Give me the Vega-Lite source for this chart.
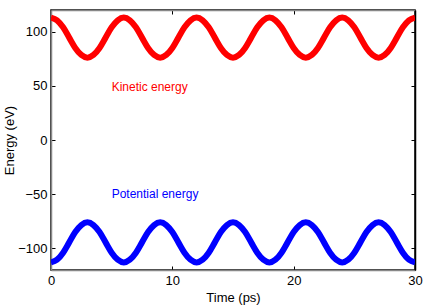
{
  "$schema": "https://vega.github.io/schema/vega-lite/v6.json",
  "width": 364,
  "height": 260,
  "autosize": "none",
  "padding": {"left": 51, "top": 10, "right": 21, "bottom": 35},
  "config": {
    "font": "Liberation Sans",
    "view": {"stroke": "#000000", "strokeWidth": 1.5},
    "axis": {
      "grid": false,
      "domainColor": "#888888",
      "domainWidth": 1.5,
      "tickColor": "#000000",
      "tickSize": -4,
      "labelColor": "#000000",
      "labelFontSize": 13,
      "labelFont": "Liberation Sans",
      "titleFont": "Liberation Sans",
      "titleFontSize": 13,
      "titleFontWeight": "normal",
      "titleColor": "#000000"
    }
  },
  "datasets": {
    "energy": [
      {"t": 0, "e": 113, "s": "Kinetic"}, {"t": 0.5, "e": 110.5, "s": "Kinetic"}, {"t": 1, "e": 104, "s": "Kinetic"}, {"t": 1.5, "e": 94.5, "s": "Kinetic"}, {"t": 2, "e": 85, "s": "Kinetic"}, {"t": 2.5, "e": 78.5, "s": "Kinetic"},
      {"t": 3, "e": 76, "s": "Kinetic"}, {"t": 3.5, "e": 78.5, "s": "Kinetic"}, {"t": 4, "e": 85, "s": "Kinetic"}, {"t": 4.5, "e": 94.5, "s": "Kinetic"}, {"t": 5, "e": 104, "s": "Kinetic"}, {"t": 5.5, "e": 110.5, "s": "Kinetic"},
      {"t": 6, "e": 113, "s": "Kinetic"}, {"t": 6.5, "e": 110.5, "s": "Kinetic"}, {"t": 7, "e": 104, "s": "Kinetic"}, {"t": 7.5, "e": 94.5, "s": "Kinetic"}, {"t": 8, "e": 85, "s": "Kinetic"}, {"t": 8.5, "e": 78.5, "s": "Kinetic"},
      {"t": 9, "e": 76, "s": "Kinetic"}, {"t": 9.5, "e": 78.5, "s": "Kinetic"}, {"t": 10, "e": 85, "s": "Kinetic"}, {"t": 10.5, "e": 94.5, "s": "Kinetic"}, {"t": 11, "e": 104, "s": "Kinetic"}, {"t": 11.5, "e": 110.5, "s": "Kinetic"},
      {"t": 12, "e": 113, "s": "Kinetic"}, {"t": 12.5, "e": 110.5, "s": "Kinetic"}, {"t": 13, "e": 104, "s": "Kinetic"}, {"t": 13.5, "e": 94.5, "s": "Kinetic"}, {"t": 14, "e": 85, "s": "Kinetic"}, {"t": 14.5, "e": 78.5, "s": "Kinetic"},
      {"t": 15, "e": 76, "s": "Kinetic"}, {"t": 15.5, "e": 78.5, "s": "Kinetic"}, {"t": 16, "e": 85, "s": "Kinetic"}, {"t": 16.5, "e": 94.5, "s": "Kinetic"}, {"t": 17, "e": 104, "s": "Kinetic"}, {"t": 17.5, "e": 110.5, "s": "Kinetic"},
      {"t": 18, "e": 113, "s": "Kinetic"}, {"t": 18.5, "e": 110.5, "s": "Kinetic"}, {"t": 19, "e": 104, "s": "Kinetic"}, {"t": 19.5, "e": 94.5, "s": "Kinetic"}, {"t": 20, "e": 85, "s": "Kinetic"}, {"t": 20.5, "e": 78.5, "s": "Kinetic"},
      {"t": 21, "e": 76, "s": "Kinetic"}, {"t": 21.5, "e": 78.5, "s": "Kinetic"}, {"t": 22, "e": 85, "s": "Kinetic"}, {"t": 22.5, "e": 94.5, "s": "Kinetic"}, {"t": 23, "e": 104, "s": "Kinetic"}, {"t": 23.5, "e": 110.5, "s": "Kinetic"},
      {"t": 24, "e": 113, "s": "Kinetic"}, {"t": 24.5, "e": 110.5, "s": "Kinetic"}, {"t": 25, "e": 104, "s": "Kinetic"}, {"t": 25.5, "e": 94.5, "s": "Kinetic"}, {"t": 26, "e": 85, "s": "Kinetic"}, {"t": 26.5, "e": 78.5, "s": "Kinetic"},
      {"t": 27, "e": 76, "s": "Kinetic"}, {"t": 27.5, "e": 78.5, "s": "Kinetic"}, {"t": 28, "e": 85, "s": "Kinetic"}, {"t": 28.5, "e": 94.5, "s": "Kinetic"}, {"t": 29, "e": 104, "s": "Kinetic"}, {"t": 29.5, "e": 110.5, "s": "Kinetic"},
      {"t": 30, "e": 113, "s": "Kinetic"},
      {"t": 0, "e": -113, "s": "Potential"}, {"t": 0.5, "e": -110.5, "s": "Potential"}, {"t": 1, "e": -104, "s": "Potential"}, {"t": 1.5, "e": -94.5, "s": "Potential"}, {"t": 2, "e": -85, "s": "Potential"}, {"t": 2.5, "e": -78.5, "s": "Potential"},
      {"t": 3, "e": -76, "s": "Potential"}, {"t": 3.5, "e": -78.5, "s": "Potential"}, {"t": 4, "e": -85, "s": "Potential"}, {"t": 4.5, "e": -94.5, "s": "Potential"}, {"t": 5, "e": -104, "s": "Potential"}, {"t": 5.5, "e": -110.5, "s": "Potential"},
      {"t": 6, "e": -113, "s": "Potential"}, {"t": 6.5, "e": -110.5, "s": "Potential"}, {"t": 7, "e": -104, "s": "Potential"}, {"t": 7.5, "e": -94.5, "s": "Potential"}, {"t": 8, "e": -85, "s": "Potential"}, {"t": 8.5, "e": -78.5, "s": "Potential"},
      {"t": 9, "e": -76, "s": "Potential"}, {"t": 9.5, "e": -78.5, "s": "Potential"}, {"t": 10, "e": -85, "s": "Potential"}, {"t": 10.5, "e": -94.5, "s": "Potential"}, {"t": 11, "e": -104, "s": "Potential"}, {"t": 11.5, "e": -110.5, "s": "Potential"},
      {"t": 12, "e": -113, "s": "Potential"}, {"t": 12.5, "e": -110.5, "s": "Potential"}, {"t": 13, "e": -104, "s": "Potential"}, {"t": 13.5, "e": -94.5, "s": "Potential"}, {"t": 14, "e": -85, "s": "Potential"}, {"t": 14.5, "e": -78.5, "s": "Potential"},
      {"t": 15, "e": -76, "s": "Potential"}, {"t": 15.5, "e": -78.5, "s": "Potential"}, {"t": 16, "e": -85, "s": "Potential"}, {"t": 16.5, "e": -94.5, "s": "Potential"}, {"t": 17, "e": -104, "s": "Potential"}, {"t": 17.5, "e": -110.5, "s": "Potential"},
      {"t": 18, "e": -113, "s": "Potential"}, {"t": 18.5, "e": -110.5, "s": "Potential"}, {"t": 19, "e": -104, "s": "Potential"}, {"t": 19.5, "e": -94.5, "s": "Potential"}, {"t": 20, "e": -85, "s": "Potential"}, {"t": 20.5, "e": -78.5, "s": "Potential"},
      {"t": 21, "e": -76, "s": "Potential"}, {"t": 21.5, "e": -78.5, "s": "Potential"}, {"t": 22, "e": -85, "s": "Potential"}, {"t": 22.5, "e": -94.5, "s": "Potential"}, {"t": 23, "e": -104, "s": "Potential"}, {"t": 23.5, "e": -110.5, "s": "Potential"},
      {"t": 24, "e": -113, "s": "Potential"}, {"t": 24.5, "e": -110.5, "s": "Potential"}, {"t": 25, "e": -104, "s": "Potential"}, {"t": 25.5, "e": -94.5, "s": "Potential"}, {"t": 26, "e": -85, "s": "Potential"}, {"t": 26.5, "e": -78.5, "s": "Potential"},
      {"t": 27, "e": -76, "s": "Potential"}, {"t": 27.5, "e": -78.5, "s": "Potential"}, {"t": 28, "e": -85, "s": "Potential"}, {"t": 28.5, "e": -94.5, "s": "Potential"}, {"t": 29, "e": -104, "s": "Potential"}, {"t": 29.5, "e": -110.5, "s": "Potential"},
      {"t": 30, "e": -113, "s": "Potential"}
    ],
    "labels": [
      {"t": 5, "e": 49, "s": "Kinetic", "label": "Kinetic energy"},
      {"t": 5, "e": -50, "s": "Potential", "label": "Potential energy"}
    ]
  },
  "resolve": {"axis": {"x": "independent", "y": "independent"}},
  "layer": [
    {
      "data": {"name": "energy"},
      "mark": {"type": "line", "strokeWidth": 6, "interpolate": "monotone", "clip": true},
      "encoding": {
        "x": {"field": "t", "type": "quantitative", "scale": {"domain": [0, 30], "nice": false}, "axis": {"orient": "bottom", "title": "Time (ps)", "values": [0, 10, 20, 30], "labelPadding": 8, "titlePadding": 4, "labelFlush": false}},
        "y": {"field": "e", "type": "quantitative", "scale": {"domain": [-120, 120], "nice": false}, "axis": {"orient": "left", "title": "Energy (eV)", "values": [-100, -50, 0, 50, 100], "labelPadding": 8, "titlePadding": 1}},
        "color": {"field": "s", "type": "nominal", "scale": {"domain": ["Kinetic", "Potential"], "range": ["#ff0000", "#0000ff"]}, "legend": null}
      }
    },
    {
      "data": {"name": "energy"},
      "mark": {"type": "point", "opacity": 0},
      "encoding": {
        "x": {"field": "t", "type": "quantitative", "axis": {"orient": "top", "title": null, "labels": false, "values": [0, 10, 20, 30]}},
        "y": {"field": "e", "type": "quantitative", "axis": {"orient": "right", "title": null, "labels": false, "values": [-100, -50, 0, 50, 100], "domainColor": "#000000"}}
      }
    },
    {
      "data": {"name": "labels"},
      "mark": {"type": "text", "align": "left", "baseline": "middle", "fontSize": 12, "font": "Liberation Sans"},
      "encoding": {
        "x": {"field": "t", "type": "quantitative", "axis": null},
        "y": {"field": "e", "type": "quantitative", "axis": null},
        "text": {"field": "label", "type": "nominal"},
        "color": {"field": "s", "type": "nominal", "legend": null}
      }
    }
  ]
}
